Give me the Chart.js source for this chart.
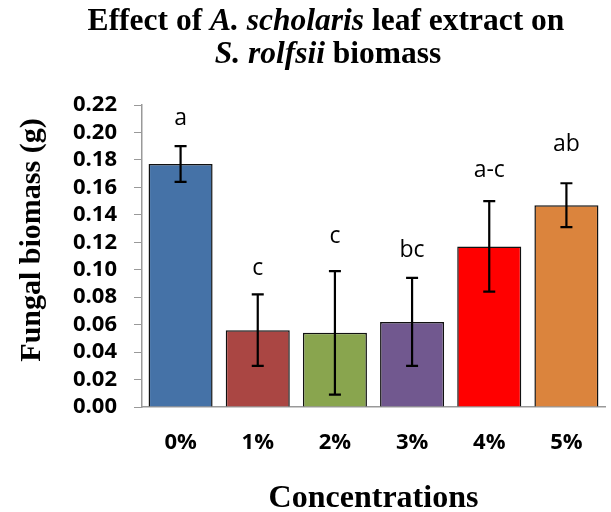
<!DOCTYPE html>
<html>
<head>
<meta charset="utf-8">
<script src="https://cdn.jsdelivr.net/npm/chart.js@4/dist/chart.umd.min.js"></script>
<style>
  html, body { margin: 0; padding: 0; background: #fff; }
  #wrap { width: 611px; height: 512px; position: relative; }
</style>
</head>
<body>
<div id="wrap"><canvas id="c" width="611" height="512"></canvas></div>
<script>
// ---- data ----
const categories = ["0%", "1%", "2%", "3%", "4%", "5%"];
const biomass = [0.177, 0.056, 0.054, 0.062, 0.117, 0.147];
const errors = [0.013, 0.026, 0.045, 0.032, 0.033, 0.016];
const letters = ["a", "c", "c", "bc", "a-c", "ab"];
const letterHeights = [0.210, 0.101, 0.124, 0.114, 0.1725, 0.191];
const barColors = ["#4572A7", "#AA4643", "#89A54E", "#71588F", "#FF0000", "#DB843D"];
const yTicksMin = 0, yTicksMax = 0.22, yTickStep = 0.02;
const titleLine1 = [["Effect of ", false], ["A. scholaris", true], [" leaf extract on", false]];
const titleLine2 = [["S. rolfsii", true], [" biomass", false]];
const xTitle = "Concentrations";
const yTitle = "Fungal biomass (g)";

const serif = '"Liberation Serif", "Times New Roman", serif';
const sans = '"Open Sans", "DejaVu Sans", sans-serif';

function drawMixed(ctx, segs, cx, baseline, size) {
  let total = 0;
  const widths = segs.map(([t, it]) => {
    ctx.font = (it ? 'italic ' : '') + 'bold ' + size + 'px ' + serif;
    const w = ctx.measureText(t).width; total += w; return w;
  });
  let x = cx - total / 2;
  ctx.textAlign = 'left';
  ctx.textBaseline = 'alphabetic';
  segs.forEach(([t, it], i) => {
    ctx.font = (it ? 'italic ' : '') + 'bold ' + size + 'px ' + serif;
    ctx.fillText(t, x, baseline);
    x += widths[i];
  });
}

const overlay = {
  id: 'overlay',
  afterDatasetsDraw(chart) {
    const ctx = chart.ctx;
    const y = chart.scales.y;
    const meta = chart.getDatasetMeta(0);
    ctx.save();
    // error bars
    ctx.strokeStyle = '#000';
    ctx.lineWidth = 2.2;
    meta.data.forEach((bar, i) => {
      const x = bar.x;
      const top = y.getPixelForValue(biomass[i] + errors[i]);
      const bot = y.getPixelForValue(biomass[i] - errors[i]);
      ctx.beginPath();
      ctx.moveTo(x, top); ctx.lineTo(x, bot);
      ctx.moveTo(x - 6, top); ctx.lineTo(x + 6, top);
      ctx.moveTo(x - 6, bot); ctx.lineTo(x + 6, bot);
      ctx.stroke();
    });
    // letters
    ctx.fillStyle = '#000';
    ctx.font = '23px ' + sans;
    ctx.textAlign = 'center';
    ctx.textBaseline = 'middle';
    meta.data.forEach((bar, i) => {
      ctx.fillText(letters[i], bar.x, y.getPixelForValue(letterHeights[i]));
    });
    ctx.restore();
  },
  afterDraw(chart) {
    const ctx = chart.ctx;
    const area = chart.chartArea;
    ctx.save();
    ctx.fillStyle = '#000';
    drawMixed(ctx, titleLine1, 326, 30, 31.5);
    drawMixed(ctx, titleLine2, 328, 63, 31.5);
    // x title
    ctx.font = 'bold 32px ' + serif;
    ctx.textAlign = 'center';
    ctx.textBaseline = 'alphabetic';
    ctx.fillText(xTitle, (area.left + area.right) / 2, 507);
    // y title
    ctx.font = 'bold 30px ' + serif;
    ctx.translate(40, 240);
    ctx.rotate(-Math.PI / 2);
    ctx.fillText(yTitle, 0, 0);
    ctx.restore();
  }
};

new Chart(document.getElementById('c'), {
  type: 'bar',
  data: {
    labels: categories,
    datasets: [{
      data: biomass,
      backgroundColor: barColors,
      borderColor: '#111',
      borderWidth: 1.5,
      barPercentage: 0.83,
      categoryPercentage: 1.0
    }]
  },
  options: {
    responsive: false,
    animation: false,
    layout: { padding: { top: 105, right: 6, left: 0, bottom: 0 } },
    plugins: { legend: { display: false }, tooltip: { enabled: false }, title: { display: false } },
    scales: {
      x: {
        afterFit(s) { s.height = 105; },
        grid: { display: true, drawOnChartArea: false, drawTicks: false, color: '#999' },
        border: { display: true, color: '#999', width: 1.5 },
        ticks: { color: '#000', padding: 23, font: { family: sans, size: 22, weight: 'bold' } }
      },
      y: {
        min: yTicksMin, max: yTicksMax,
        afterFit(s) { s.width = 142; },
        grid: { display: true, drawOnChartArea: false, drawTicks: true, tickLength: 8, color: '#999' },
        border: { display: true, color: '#999', width: 1.5 },
        ticks: {
          stepSize: yTickStep, autoSkip: false, color: '#000', padding: 17,
          font: { family: sans, size: 22, weight: 'bold' },
          callback: v => Number(v).toFixed(2)
        }
      }
    }
  },
  plugins: [overlay]
});
</script>
</body>
</html>
